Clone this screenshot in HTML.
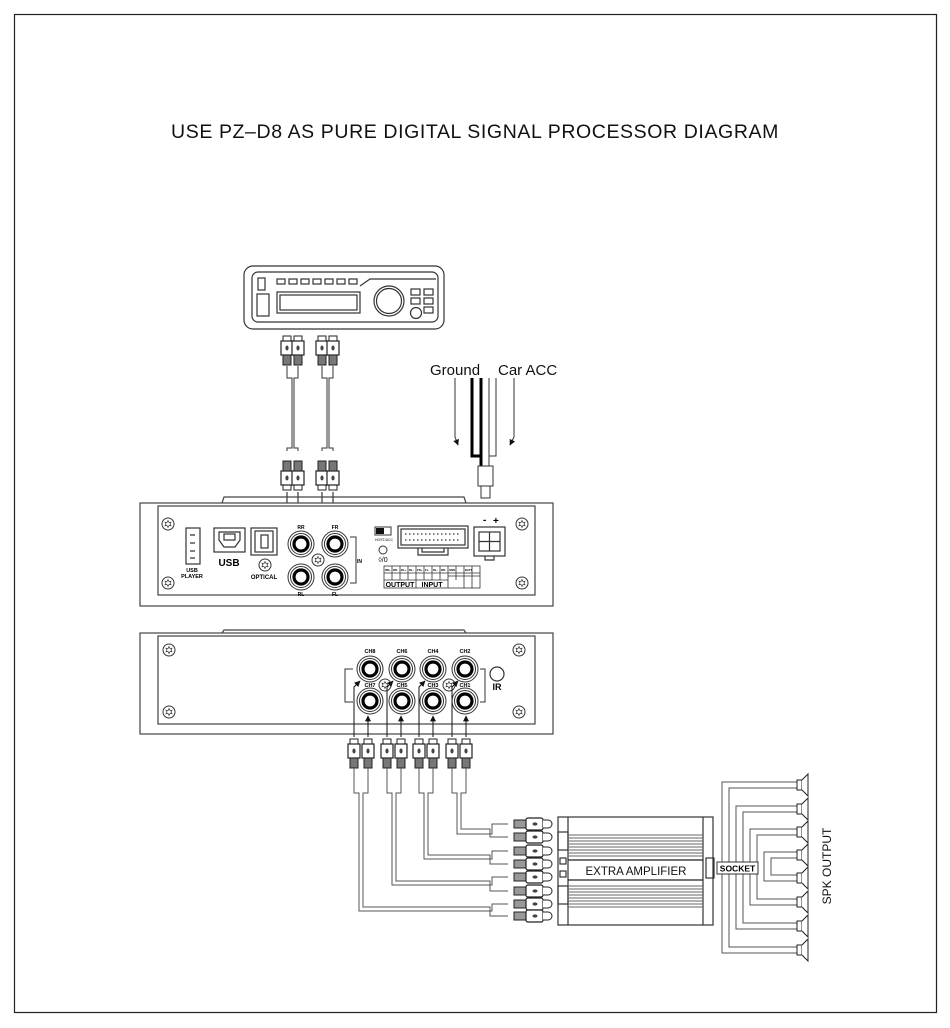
<!DOCTYPE html>
<html><head><meta charset="utf-8"><style>
html,body{margin:0;padding:0;background:#fff;}
svg{display:block;font-family:"Liberation Sans",Arial,sans-serif;}
</style></head><body>
<svg width="950" height="1028" viewBox="0 0 950 1028" xmlns="http://www.w3.org/2000/svg">
<defs>
  <g id="plugV">
    <rect x="-4" y="0" width="8" height="5" fill="#fff" stroke="#222" stroke-width="1"/>
    <rect x="-6" y="5" width="12" height="14" fill="#fff" stroke="#222" stroke-width="1.2"/>
    <ellipse cx="0" cy="12" rx="1.6" ry="2.5" fill="#444"/>
    <rect x="-4" y="19" width="8" height="10" fill="#777" stroke="#222" stroke-width="1"/>
  </g>
  <g id="plugH">
    <rect x="-34" y="-4" width="12" height="8" fill="#999" stroke="#222" stroke-width="1"/>
    <rect x="-22" y="-6" width="17" height="12" rx="2" fill="#fff" stroke="#222" stroke-width="1.2"/>
    <ellipse cx="-13" cy="0" rx="2.5" ry="1.6" fill="#444"/>
    <path d="M-5,-4 h5 a3,3 0 0 1 0,8 h-5" fill="#fff" stroke="#222" stroke-width="1"/>
  </g>
  <g id="jack">
    <circle r="13" fill="#fff" stroke="#333" stroke-width="1"/>
    <circle r="10.5" fill="#fff" stroke="#333" stroke-width="1"/>
    <circle r="7" fill="#fff" stroke="#000" stroke-width="3.2"/>
  </g>
  <g id="screw">
    <circle r="6" fill="#fff" stroke="#333" stroke-width="1"/>
    <path d="M0,-3.5 L1,-1.5 3,-1.8 2,0 3,1.8 1,1.5 0,3.5 -1,1.5 -3,1.8 -2,0 -3,-1.8 -1,-1.5Z" fill="none" stroke="#333" stroke-width="0.7"/>
  </g>
  <g id="spk">
    <rect x="0" y="-5" width="5" height="10" fill="#fff" stroke="#222"/>
    <path d="M5,-5 L11,-11 L11,11 L5,5" fill="#fff" stroke="#222"/>
  </g>
  <marker id="ar" viewBox="0 0 10 10" refX="9" refY="5" markerWidth="6" markerHeight="6" orient="auto"><path d="M0,0 L10,5 L0,10Z" fill="#111"/></marker>
</defs>

<rect x="14.5" y="14.5" width="922" height="998" fill="none" stroke="#222" stroke-width="1.2"/>
<text x="475" y="138" text-anchor="middle" font-size="19.5" letter-spacing="0.6" fill="#111">USE PZ–D8 AS PURE DIGITAL SIGNAL PROCESSOR DIAGRAM</text>

<!-- head unit -->
<g fill="none" stroke="#333" stroke-width="1.2">
  <rect x="244" y="266" width="200" height="63" rx="9"/>
  <rect x="252" y="272" width="186" height="50" rx="6"/>
  <rect x="258" y="278" width="7" height="12"/>
  <rect x="257" y="294" width="12" height="22"/>
  <g><rect x="277" y="279" width="8" height="5"/><rect x="289" y="279" width="8" height="5"/><rect x="301" y="279" width="8" height="5"/><rect x="313" y="279" width="8" height="5"/><rect x="325" y="279" width="8" height="5"/><rect x="337" y="279" width="8" height="5"/><rect x="349" y="279" width="8" height="5"/></g>
  <path d="M360,286 L370,279 L436,279"/>
  <rect x="277" y="292" width="83" height="21"/>
  <rect x="280" y="295" width="77" height="15"/>
  <circle cx="389" cy="301" r="15"/><circle cx="389" cy="301" r="12.5"/>
  <rect x="411" y="289" width="9" height="6"/><rect x="424" y="289" width="9" height="6"/>
  <rect x="411" y="298" width="9" height="6"/><rect x="424" y="298" width="9" height="6"/>
  <rect x="424" y="307" width="9" height="6"/>
  <circle cx="416" cy="313" r="5.5"/>
</g>

<!-- cables head unit to DSP -->
<g fill="none" stroke="#333" stroke-width="1">
  <path d="M287,366 V378 H292 V448 H287 V451"/><path d="M298,366 V378 H294 V448 H298 V451"/>
  <path d="M322,366 V378 H327 V448 H322 V451"/><path d="M333,366 V378 H329 V448 H333 V451"/>
</g>
<use href="#plugV" x="287" y="336"/><use href="#plugV" x="298" y="336"/>
<use href="#plugV" x="322" y="336"/><use href="#plugV" x="333" y="336"/>
<g transform="translate(0,932) scale(1,-1)">
  <use href="#plugV" x="287" y="442"/><use href="#plugV" x="298" y="442"/>
  <use href="#plugV" x="322" y="442"/><use href="#plugV" x="333" y="442"/>
</g>
<g stroke="#111" stroke-width="1" fill="none" marker-end="url(#ar)">
  <path d="M287,492 V517 L293,528"/>
  <path d="M298,492 V526"/>
  <path d="M322,492 V520 L330,535 V556 L335,563"/>
  <path d="M333,492 V526"/>
</g>

<!-- ground / acc -->
<text x="430" y="375" font-size="15" fill="#111">Ground</text>
<text x="498" y="375" font-size="15" fill="#111">Car ACC</text>
<g fill="none">
  <path d="M472,378 V456 H481" stroke="#000" stroke-width="3"/>
  <path d="M481,378 V470" stroke="#000" stroke-width="3"/>
  <path d="M489,378 V470" stroke="#333" stroke-width="1"/>
  <path d="M496,378 V456 H489" stroke="#333" stroke-width="1"/>
  <path d="M455,378 V437 L458,445" stroke="#333" stroke-width="1" marker-end="url(#ar)"/>
  <path d="M514,378 V437 L510,445" stroke="#333" stroke-width="1" marker-end="url(#ar)"/>
  <rect x="478" y="466" width="15" height="20" fill="#fff" stroke="#333" stroke-width="1"/>
  <rect x="481" y="486" width="9" height="12" fill="#fff" stroke="#333" stroke-width="1"/>
</g>

<!-- DSP top unit -->
<g fill="none" stroke="#444" stroke-width="1.2">
  <path d="M222,503 L224,497 H464 L466,503"/>
  <rect x="140" y="503" width="413" height="103" fill="#fff"/>
  <rect x="158" y="506" width="377" height="89"/>
</g>
<use href="#screw" x="168" y="524"/><use href="#screw" x="168" y="583"/>
<use href="#screw" x="522" y="524"/><use href="#screw" x="522" y="583"/>
<g fill="none" stroke="#333" stroke-width="1.2">
  <rect x="186" y="528" width="14" height="36"/>
  <path d="M190,535 h5 M190,543 h5 M190,551 h5 M190,558 h5"/>
  <rect x="214" y="528" width="31" height="24"/>
  <path d="M219,532 h21 v8 l-5,7 h-11 l-5,-7z"/>
  <rect x="224" y="534" width="11" height="6"/>
  <rect x="251" y="528" width="26" height="27"/>
  <rect x="255" y="531" width="18" height="21"/>
  <rect x="261" y="535" width="7" height="13"/>
</g>
<use href="#screw" x="265" y="565"/>
<text x="192" y="572" font-size="5.5" font-weight="bold" text-anchor="middle">USB</text>
<text x="192" y="578" font-size="5.5" font-weight="bold" text-anchor="middle">PLAYER</text>
<text x="229" y="566" font-size="10" font-weight="bold" text-anchor="middle">USB</text>
<text x="264" y="579" font-size="6" font-weight="bold" text-anchor="middle">OPTICAL</text>
<use href="#jack" x="301" y="544"/><use href="#jack" x="335" y="544"/>
<use href="#jack" x="301" y="577"/><use href="#jack" x="335" y="577"/>
<use href="#screw" x="318" y="560"/>
<text x="301" y="529" font-size="5" font-weight="bold" text-anchor="middle">RR</text>
<text x="335" y="529" font-size="5" font-weight="bold" text-anchor="middle">FR</text>
<text x="301" y="596" font-size="5" font-weight="bold" text-anchor="middle">RL</text>
<text x="335" y="596" font-size="5" font-weight="bold" text-anchor="middle">FL</text>
<path d="M350,537 H356 V583 H350" fill="none" stroke="#333"/>
<text x="357" y="563" font-size="5" font-weight="bold">IN</text>
<!-- switch & connectors -->
<rect x="375" y="527" width="16" height="8" fill="#fff" stroke="#333"/>
<rect x="376" y="528" width="8" height="6" fill="#111"/>
<text x="384" y="541" font-size="3.5" text-anchor="middle">HOST/ACC</text>
<circle cx="383" cy="550" r="4" fill="none" stroke="#333"/>
<text x="383" y="562" font-size="7" text-anchor="middle">◊/0</text>
<g fill="none" stroke="#333" stroke-width="1.2">
  <rect x="398" y="526" width="70" height="22"/>
  <rect x="401" y="529" width="64" height="16"/>
  <path d="M418,548 v7 h30 v-7 M422,548 v4 h22 v-4"/>
  <path d="M405,534 h56 M405,540 h56" stroke-dasharray="1.5,2.5"/>
  <rect x="474" y="527" width="31" height="29"/>
  <rect x="479" y="532" width="21" height="19"/>
  <path d="M489.5,532 v19 M479,541.5 h21"/>
  <path d="M485,556 v4 h9 v-4"/>
</g>
<text x="483" y="523" font-size="10" font-weight="bold">-</text>
<text x="493" y="524" font-size="10" font-weight="bold">+</text>
<g fill="none" stroke="#333" stroke-width="0.8">
  <rect x="384" y="566" width="96" height="22"/>
  <path d="M384,573 h96 M384,580 h64 M448,576 h32 M392,566 v14 M400,566 v14 M408,566 v14 M416,566 v22 M424,566 v14 M432,566 v14 M440,566 v14 M448,566 v22 M456,566 v14 M464,566 v22 M472,566 v22"/>
</g>
<g font-size="2.8" font-weight="bold"><text x="385" y="571">RR+</text><text x="393" y="571">RR-</text><text x="401" y="571">RL+</text><text x="409" y="571">RL-</text><text x="417" y="571">FR+</text><text x="425" y="571">FL-</text><text x="433" y="571">RL-</text><text x="441" y="571">RR-</text><text x="449" y="571">GND</text><text x="465" y="571">BATT</text></g>
<text x="400" y="587" font-size="7" font-weight="bold" text-anchor="middle">OUTPUT</text>
<text x="432" y="587" font-size="7" font-weight="bold" text-anchor="middle">INPUT</text>

<!-- DSP bottom unit -->
<g fill="none" stroke="#444" stroke-width="1.2">
  <path d="M222,633 L224,630 H464 L466,633"/>
  <rect x="140" y="633" width="413" height="101" fill="#fff"/>
  <rect x="158" y="636" width="377" height="88"/>
</g>
<use href="#screw" x="169" y="650"/><use href="#screw" x="169" y="712"/>
<use href="#screw" x="519" y="650"/><use href="#screw" x="519" y="712"/>
<use href="#jack" x="370" y="669"/><use href="#jack" x="402" y="669"/>
<use href="#jack" x="433" y="669"/><use href="#jack" x="465" y="669"/>
<use href="#jack" x="370" y="701"/><use href="#jack" x="402" y="701"/>
<use href="#jack" x="433" y="701"/><use href="#jack" x="465" y="701"/>
<use href="#screw" x="385" y="685"/><use href="#screw" x="449" y="685"/>
<g font-size="5.5" font-weight="bold" text-anchor="middle">
<text x="370" y="653">CH8</text><text x="402" y="653">CH6</text><text x="433" y="653">CH4</text><text x="465" y="653">CH2</text>
<text x="370" y="687">CH7</text><text x="402" y="687">CH5</text><text x="433" y="687">CH3</text><text x="465" y="687">CH1</text>
</g>
<path d="M353,669 H345 V702 H353 M480,669 H485 V702 H480" fill="none" stroke="#333"/>
<circle cx="497" cy="674" r="7" fill="none" stroke="#333" stroke-width="1.2"/>
<text x="497" y="690" font-size="9" font-weight="bold" text-anchor="middle">IR</text>
<g stroke="#111" stroke-width="1" fill="none" marker-end="url(#ar)">
  <path d="M354,737 V687 L360,681"/><path d="M368,737 V716"/>
  <path d="M387,737 V687 L393,681"/><path d="M401,737 V716"/>
  <path d="M419,737 V687 L425,681"/><path d="M433,737 V716"/>
  <path d="M452,737 V687 L458,681"/><path d="M466,737 V716"/>
</g>
<use href="#plugV" x="354" y="739"/><use href="#plugV" x="368" y="739"/>
<use href="#plugV" x="387" y="739"/><use href="#plugV" x="401" y="739"/>
<use href="#plugV" x="419" y="739"/><use href="#plugV" x="433" y="739"/>
<use href="#plugV" x="452" y="739"/><use href="#plugV" x="466" y="739"/>

<!-- cables to amp -->
<g fill="none" stroke="#555" stroke-width="1">
  <path d="M452,768 V793 H457 V834 H492 V824 H508"/><path d="M466,768 V793 H461 V829 H490 V837 H508"/>
  <path d="M419,768 V793 H424 V859 H492 V851 H508"/><path d="M433,768 V793 H428 V855 H490 V864 H508"/>
  <path d="M387,768 V793 H392 V885 H492 V877 H508"/><path d="M401,768 V793 H396 V881 H490 V891 H508"/>
  <path d="M354,768 V793 H359 V911 H492 V904 H508"/><path d="M368,768 V793 H363 V907 H490 V916 H508"/>
</g>
<use href="#plugH" x="548" y="824"/><use href="#plugH" x="548" y="837"/>
<use href="#plugH" x="548" y="851"/><use href="#plugH" x="548" y="864"/>
<use href="#plugH" x="548" y="877"/><use href="#plugH" x="548" y="891"/>
<use href="#plugH" x="548" y="904"/><use href="#plugH" x="548" y="916"/>

<!-- amp -->
<g fill="none" stroke="#333" stroke-width="1.2">
  <rect x="558" y="817" width="155" height="108" fill="#fff"/>
  <path d="M568,817 V925 M703,817 V925"/>
  <rect x="558" y="832" width="10" height="18"/><rect x="558" y="886" width="10" height="18"/>
  <rect x="560" y="858" width="6" height="6"/><rect x="560" y="871" width="6" height="6"/>
  <rect x="706" y="858" width="8" height="20"/>
</g>
<g stroke="#666" stroke-width="1">
  <path d="M568,835 H703 M568,838 H703 M568,841 H703 M568,844 H703 M568,847 H703 M568,850 H703 M568,853 H703 M568,856 H703"/>
  <path d="M568,886 H703 M568,889 H703 M568,892 H703 M568,895 H703 M568,898 H703 M568,901 H703 M568,904 H703 M568,907 H703"/>
</g>
<path d="M568,860 H703 M568,880 H703" stroke="#222" stroke-width="1.2"/>
<text x="636" y="875" font-size="11.5" text-anchor="middle" fill="#111">EXTRA AMPLIFIER</text>

<!-- speaker wiring (nested brackets) -->
<g fill="none" stroke="#555" stroke-width="1">
  <path d="M797,782 H722 V953 H797"/>
  <path d="M797,788 H729 V947 H797"/>
  <path d="M797,806 H736 V929 H797"/>
  <path d="M797,812 H743 V923 H797"/>
  <path d="M797,829 H750 V905 H797"/>
  <path d="M797,835 H757 V899 H797"/>
  <path d="M797,852 H764 V881 H797"/>
  <path d="M797,858 H771 V875 H797"/>
</g>
<rect x="717" y="862" width="41" height="12" fill="#fff" stroke="#333"/>
<text x="737.5" y="871.5" font-size="8.5" font-weight="bold" text-anchor="middle">SOCKET</text>
<use href="#spk" x="797" y="785"/><use href="#spk" x="797" y="809"/>
<use href="#spk" x="797" y="832"/><use href="#spk" x="797" y="855"/>
<use href="#spk" x="797" y="878"/><use href="#spk" x="797" y="902"/>
<use href="#spk" x="797" y="926"/><use href="#spk" x="797" y="950"/>
<text transform="translate(831,866) rotate(-90)" font-size="12" text-anchor="middle" fill="#111">SPK OUTPUT</text>
</svg>
</body></html>
